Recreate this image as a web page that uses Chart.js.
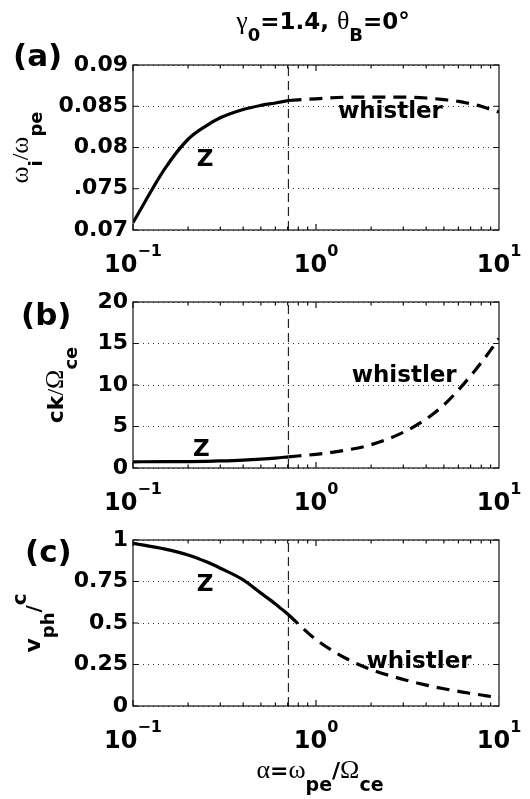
<!DOCTYPE html>
<html>
<head>
<meta charset="utf-8">
<script src="https://cdn.jsdelivr.net/npm/chart.js@4.4.0/dist/chart.umd.min.js"></script>
<style>
html, body { margin: 0; padding: 0; background: #fff; }
#wrap { position: relative; width: 530px; height: 799px; }
#wrap canvas { position: absolute; left: 0; top: 0; }
</style>
</head>
<body>
<div id="wrap">
<canvas id="chartA" width="530" height="799"></canvas>
<canvas id="chartB" width="530" height="799"></canvas>
<canvas id="chartC" width="530" height="799"></canvas>
</div>
<script>
// alpha = wpe/Wce along each branch
var zAlpha = [0.1, 0.15, 0.2, 0.25, 0.3, 0.4, 0.5, 0.6, 0.707];
var whistlerAlpha = [0.707, 1, 1.5, 2, 3, 4, 5, 6, 7, 8, 9, 10];
var crossAlpha = 0.707;

// (a) growth rate wi/wpe
var omegaZ = [0.0709, 0.0775, 0.0810, 0.0826, 0.0836, 0.0846, 0.0851, 0.0854, 0.0857];
var omegaWhistler = [0.0857, 0.0859, 0.0861, 0.0861, 0.0861, 0.0860, 0.0858, 0.0856, 0.0853, 0.0850, 0.0846, 0.0843];
// (b) ck/Wce
var ckZ = [0.75, 0.76, 0.78, 0.81, 0.85, 0.95, 1.07, 1.2, 1.35];
var ckWhistler = [1.35, 1.65, 2.2, 2.8, 4.3, 5.9, 7.6, 9.4, 11.1, 12.7, 14.2, 15.6];
// (c) vph/c
var vphZ = [0.98, 0.945, 0.91, 0.87, 0.83, 0.76, 0.68, 0.615, 0.55];
var vphWhistler = [0.55, 0.40, 0.28, 0.22, 0.16, 0.126, 0.104, 0.088, 0.076, 0.066, 0.057, 0.049];

var xTickValues = [0.1, 1, 10];
var xTickExp = ['\u22121', '0', '1'];

var yTicksA = [0.07, 0.075, 0.08, 0.085, 0.09];
var yLabelsA = ['0.07', '.075', '0.08', '0.085', '0.09'];
var yTicksB = [0, 5, 10, 15, 20];
var yLabelsB = ['0', '5', '10', '15', '20'];
var yTicksC = [0, 0.25, 0.5, 0.75, 1];
var yLabelsC = ['0', '0.25', '0.5', '0.75', '1'];

var SANS = '"DejaVu Sans", sans-serif';
var SERIF = '"Liberation Serif", serif';
function bold(px) { return 'bold ' + px + 'px ' + SANS; }
function greek(px) { return px + 'px ' + SERIF; }

// extra text for each panel (positions of labels given in data units)
var decor = {
  chartA: {
    yTicks: yTicksA,
    panel: '(a)', panelX: 13, panelY: 66,
    ylabel: [{t: '\u03c9', font: greek(26)}, {t: 'i', font: bold(18), dy: 14}, {t: '/', font: greek(24)},
             {t: '\u03c9', font: greek(26)}, {t: 'pe', font: bold(18), dy: 14}],
    ylabelX: 28,
    notes: [{t: 'Z', x: 0.223, y: 0.0777}, {t: 'whistler', x: 1.318, y: 0.0836}],
    title: [{t: '\u03b3', font: greek(26)}, {t: '0', font: bold(18), dy: 12}, {t: '=1.4, ', font: bold(23)},
            {t: '\u03b8', font: greek(26)}, {t: 'B', font: bold(18), dy: 12}, {t: '=0\u00b0', font: bold(23)}]
  },
  chartB: {
    yTicks: yTicksB,
    panel: '(b)', panelX: 21, panelY: 325,
    ylabel: [{t: 'ck', font: bold(22)}, {t: '/', font: greek(24)}, {t: '\u03a9', font: greek(26)},
             {t: 'ce', font: bold(18), dy: 14}],
    ylabelX: 63,
    notes: [{t: 'Z', x: 0.213, y: 1.41}, {t: 'whistler', x: 1.567, y: 10.4}]
  },
  chartC: {
    yTicks: yTicksC,
    panel: '(c)', panelX: 25, panelY: 562,
    ylabel: [{t: 'v', font: bold(22)}, {t: 'ph', font: bold(18), dy: 14}, {t: '/', font: bold(20)},
             {t: 'c', font: bold(20), dy: -14}],
    ylabelX: 40,
    notes: [{t: 'Z', x: 0.223, y: 0.69}, {t: 'whistler', x: 1.89, y: 0.229}],
    xlabel: [{t: '\u03b1', font: greek(26)}, {t: '=', font: bold(22)}, {t: '\u03c9', font: greek(26)},
             {t: 'pe', font: bold(19), dy: 13}, {t: '/', font: bold(22)}, {t: '\u03a9', font: greek(26)},
             {t: 'ce', font: bold(19), dy: 13}]
  }
};

function drawRich(ctx, parts, x, y, align) {
  var w = 0;
  parts.forEach(function (p) { ctx.font = p.font; w += ctx.measureText(p.t).width; });
  var cx = align === 'center' ? x - w / 2 : x;
  parts.forEach(function (p) {
    ctx.font = p.font;
    ctx.fillText(p.t, cx, y + (p.dy || 0));
    cx += ctx.measureText(p.t).width;
  });
}

var panelDecor = {
  id: 'panelDecor',
  afterDatasetsDraw: function (chart) {
    var cfg = decor[chart.canvas.id];
    var ctx = chart.ctx, a = chart.chartArea, xs = chart.scales.x, ys = chart.scales.y;
    ctx.save();
    ctx.strokeStyle = '#111';
    ctx.lineWidth = 1.2;
    ctx.strokeRect(a.left, a.top, a.right - a.left, a.bottom - a.top);
    ctx.beginPath();
    for (var d = -1; d < 1; d++) {
      for (var m = 1; m <= 9; m++) {
        var px = xs.getPixelForValue(m * Math.pow(10, d));
        var len = m === 1 ? 6 : 3.5;
        ctx.moveTo(px, a.bottom); ctx.lineTo(px, a.bottom - len);
        ctx.moveTo(px, a.top); ctx.lineTo(px, a.top + len);
      }
    }
    cfg.yTicks.forEach(function (v) {
      var py = ys.getPixelForValue(v);
      ctx.moveTo(a.left, py); ctx.lineTo(a.left + 5, py);
      ctx.moveTo(a.right, py); ctx.lineTo(a.right - 5, py);
    });
    ctx.stroke();
    ctx.restore();
  },
  afterDraw: function (chart) {
    var cfg = decor[chart.canvas.id];
    var ctx = chart.ctx, a = chart.chartArea, xs = chart.scales.x, ys = chart.scales.y;
    ctx.save();
    ctx.fillStyle = '#000';
    ctx.textBaseline = 'alphabetic';
    // x tick labels 10^n
    xTickValues.forEach(function (v, i) {
      drawRich(ctx, [{t: '10', font: bold(24)}, {t: xTickExp[i], font: bold(16), dy: -16}],
        xs.getPixelForValue(v), a.bottom + 41.5, 'center');
    });
    // panel letter
    ctx.font = bold(31);
    ctx.fillText(cfg.panel, cfg.panelX, cfg.panelY);
    // branch names
    cfg.notes.forEach(function (n) {
      ctx.font = bold(23);
      ctx.fillText(n.t, xs.getPixelForValue(n.x), ys.getPixelForValue(n.y));
    });
    // y label, rotated
    ctx.save();
    ctx.translate(cfg.ylabelX, (a.top + a.bottom) / 2);
    ctx.rotate(-Math.PI / 2);
    drawRich(ctx, cfg.ylabel, 0, 0, 'center');
    ctx.restore();
    if (cfg.title) drawRich(ctx, cfg.title, 323, 28.5, 'center');
    if (cfg.xlabel) drawRich(ctx, cfg.xlabel, 320, 778, 'center');
    ctx.restore();
  }
};

function makePanel(id, zY, wY, yTicks, yLabels, top, bottom) {
  var yMin = yTicks[0], yMax = yTicks[yTicks.length - 1];
  return new Chart(document.getElementById(id), {
    type: 'line',
    data: {
      datasets: [
        {
          label: 'Z',
          data: zAlpha.map(function (x, i) { return {x: x, y: zY[i]}; }),
          borderColor: '#000', borderWidth: 3.2, pointRadius: 0,
          tension: 0.4, cubicInterpolationMode: 'monotone', fill: false
        },
        {
          label: 'whistler',
          data: whistlerAlpha.map(function (x, i) { return {x: x, y: wY[i]}; }),
          borderColor: '#000', borderWidth: 3.2, borderDash: [13, 8], pointRadius: 0,
          tension: 0.4, cubicInterpolationMode: 'monotone', fill: false
        },
        {
          label: 'boundary',
          data: [{x: crossAlpha, y: yMin}, {x: crossAlpha, y: yMax}],
          borderColor: '#222', borderWidth: 1.2, borderDash: [9, 5], pointRadius: 0, tension: 0
        }
      ]
    },
    options: {
      responsive: false,
      animation: false,
      devicePixelRatio: 1,
      events: [],
      layout: {padding: {top: top, bottom: 799 - bottom, left: 0, right: 31}},
      plugins: {legend: {display: false}, tooltip: {enabled: false}},
      scales: {
        x: {type: 'logarithmic', min: 0.1, max: 10, display: false},
        y: {
          type: 'linear', min: yMin, max: yMax,
          afterBuildTicks: function (s) { s.ticks = yTicks.map(function (v) { return {value: v}; }); },
          afterFit: function (s) { s.width = 133; },
          grid: {color: '#333', lineWidth: 1, drawTicks: false},
          border: {display: false, dash: [1, 4]},
          ticks: {
            padding: 5, color: '#000',
            font: {family: 'DejaVu Sans', size: 22, weight: 'bold'},
            callback: function (v, i) { return yLabels[i]; }
          }
        }
      }
    },
    plugins: [panelDecor]
  });
}

makePanel('chartA', omegaZ, omegaWhistler, yTicksA, yLabelsA, 65, 230);
makePanel('chartB', ckZ, ckWhistler, yTicksB, yLabelsB, 302, 468);
makePanel('chartC', vphZ, vphWhistler, yTicksC, yLabelsC, 540, 706);
</script>
</body>
</html>
